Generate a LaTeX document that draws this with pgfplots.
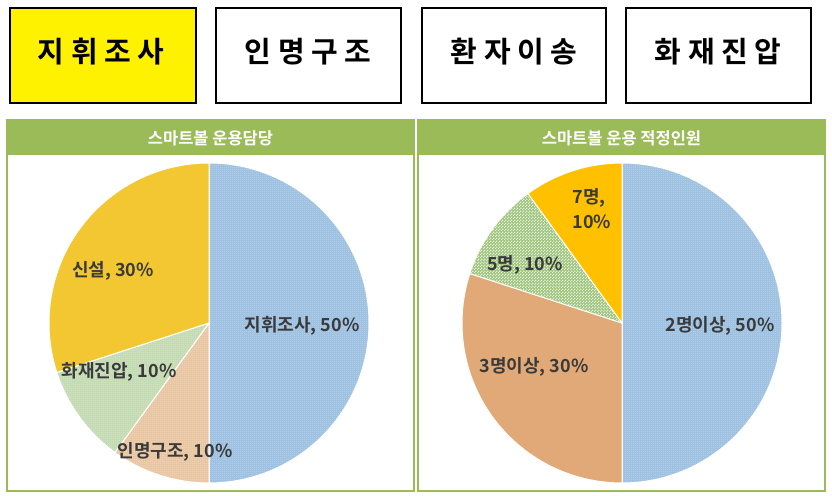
\documentclass[border=0pt]{standalone}
\usepackage{fontspec}
\setmainfont{Noto Sans CJK KR}[BoldFont={Noto Sans CJK KR Bold}]
\usepackage{pgfplots}
\pgfplotsset{compat=1.18}
\usepackage{pgfplotstable}
\usetikzlibrary{patterns}

\definecolor{hdr}{HTML}{9BBB59}
\definecolor{bluebase}{HTML}{98BDE0}
\definecolor{tanbase}{HTML}{E8C29C}
\definecolor{greenbase}{HTML}{C0D8AE}
\definecolor{gold}{HTML}{F2C731}
\definecolor{tansolid}{HTML}{E0A977}
\definecolor{chk}{HTML}{9EC47E}
\definecolor{orangegold}{HTML}{FFC000}
\definecolor{lbl}{HTML}{3A3A3A}

\pgfdeclarepatternformonly{fdots}{\pgfpointorigin}{\pgfpoint{2.4pt}{2.4pt}}{\pgfpoint{2.4pt}{2.4pt}}{%
  \pgfpathcircle{\pgfpoint{1.2pt}{1.2pt}}{0.6pt}\pgfusepath{fill}}
\pgfdeclarepatternformonly{cdots}{\pgfpointorigin}{\pgfpoint{3pt}{3pt}}{\pgfpoint{3pt}{3pt}}{%
  \pgfpathrectangle{\pgfpoint{0pt}{0pt}}{\pgfpoint{1.5pt}{1.5pt}}\pgfusepath{fill}%
  \pgfpathrectangle{\pgfpoint{1.5pt}{1.5pt}}{\pgfpoint{1.5pt}{1.5pt}}\pgfusepath{fill}}

\tikzset{
  sBlue/.style={fill=bluebase, draw=white, line width=1pt, postaction={pattern=fdots, pattern color=white}},
  sTan/.style={fill=tanbase, draw=white, line width=1pt, postaction={pattern=fdots, pattern color=white}},
  sGreen/.style={fill=greenbase, draw=white, line width=1pt, postaction={pattern=fdots, pattern color=white}},
  sGold/.style={fill=gold, draw=white, line width=1pt},
  sTanSolid/.style={fill=tansolid, draw=white, line width=1pt},
  sChk/.style={fill=chk, draw=white, line width=1pt, postaction={pattern=cdots, pattern color=white!70!chk}},
  sOrange/.style={fill=orangegold, draw=white, line width=1pt},
}

\pgfplotstableread{
label value style
지휘조사 50 sBlue
인명구조 10 sTan
화재진압 10 sGreen
신설 30 sGold
}\tableA

\pgfplotstableread{
label value style
2명이상 50 sBlue
3명이상 30 sTanSolid
5명 10 sChk
7명 10 sOrange
}\tableB

% #1 table, #2 cx, #3 cy, #4 radius
\newcommand{\drawpie}[4]{%
  \pgfplotstablegetrowsof{#1}%
  \pgfmathtruncatemacro\lastrow{\pgfplotsretval-1}%
  \def\cum{0}%
  \pgfplotsforeachungrouped \i in {0,...,\lastrow}{%
    \pgfplotstablegetelem{\i}{value}\of{#1}\let\vv\pgfplotsretval
    \pgfplotstablegetelem{\i}{style}\of{#1}\let\ss\pgfplotsretval
    \pgfmathsetmacro\aa{90-3.6*\cum}%
    \pgfmathsetmacro\bb{90-3.6*(\cum+\vv)}%
    \pgfmathsetmacro\cum{\cum+\vv}%
    \edef\cmd{\noexpand\path[\ss] (axis cs:#2,#3) -- ++(\aa:#4pt) arc[start angle=\aa, end angle=\bb, radius=#4pt] -- cycle;}%
    \cmd
  }%
}

\begin{document}
\begin{tikzpicture}
\begin{axis}[
  width=832pt, height=495pt, scale only axis,
  xmin=0, xmax=832, ymin=0, ymax=495,
  hide axis, clip=false,
]
\path (axis cs:0,0) rectangle (axis cs:832,495);

% top boxes
\draw[line width=2.5pt, fill=yellow] (axis cs:10,487) rectangle (axis cs:196,392);
\draw[line width=2.5pt, fill=white] (axis cs:216,487) rectangle (axis cs:401,392);
\draw[line width=2.5pt, fill=white] (axis cs:422,487) rectangle (axis cs:606,392);
\draw[line width=2.5pt, fill=white] (axis cs:626,487) rectangle (axis cs:811,392);
\node[font=\fontsize{29}{32}\selectfont\bfseries] at (axis cs:101,443) {지 휘 조 사};
\node[font=\fontsize{29}{32}\selectfont\bfseries] at (axis cs:308,443) {인 명 구 조};
\node[font=\fontsize{29}{32}\selectfont\bfseries] at (axis cs:514,443) {환 자 이 송};
\node[font=\fontsize{29}{32}\selectfont\bfseries] at (axis cs:718,443) {화 재 진 압};

% panels
\draw[hdr, line width=2pt, fill=white] (axis cs:7,375) rectangle (axis cs:414,4);
\fill[hdr] (axis cs:7,375) rectangle (axis cs:414,340);
\draw[hdr, line width=2pt, fill=white] (axis cs:418,375) rectangle (axis cs:825,4);
\fill[hdr] (axis cs:418,375) rectangle (axis cs:825,340);
\node[white, font=\fontsize{16.5}{18}\selectfont\bfseries] at (axis cs:210.5,357) {스마트볼 운용담당};
\node[white, font=\fontsize{16.5}{18}\selectfont\bfseries] at (axis cs:621.5,357) {스마트볼 운용 적정인원};

% pies
\drawpie{\tableA}{209}{172}{160}
\drawpie{\tableB}{622}{172}{160}

% labels
\begin{scope}[every node/.style={text=lbl, font=\fontsize{18}{20}\selectfont\bfseries}]
\node at (axis cs:113,224) {신설, 30\%};
\node at (axis cs:302,169) {지휘조사, 50\%};
\node at (axis cs:119,123) {화재진압, 10\%};
\node at (axis cs:175,43) {인명구조, 10\%};
\node at (axis cs:589,297) {7명,};
\node at (axis cs:592,273) {10\%};
\node at (axis cs:525,230) {5명, 10\%};
\node at (axis cs:720,169) {2명이상, 50\%};
\node at (axis cs:534,128) {3명이상, 30\%};
\end{scope}
\end{axis}
\end{tikzpicture}
\end{document}
